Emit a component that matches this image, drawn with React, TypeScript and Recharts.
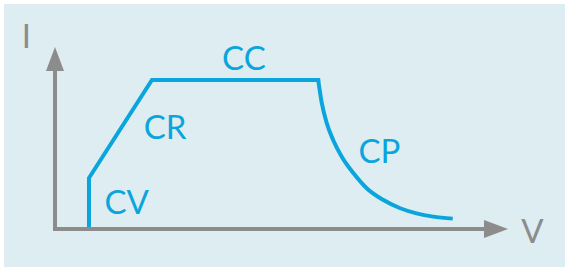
import {
  Line,
  LineChart,
  ReferenceDot,
  ReferenceLine,
  XAxis,
  YAxis,
} from "recharts";

// CV -> CR -> CC part of the characteristic (voltage / current, arbitrary units)
const rampVoltage = [7.5, 7.5, 21.4, 58.1];
const rampCurrent = [0, 28.0, 81.9, 81.9];

// constant power tail
const cpVoltage = [58.1, 58.9, 60.0, 61.4, 63.3, 65.9, 68.8, 72.5, 76.2, 79.8, 83.5, 87.8];
const cpCurrent = [81.9, 69.1, 58.1, 48.9, 39.7, 30.6, 22.4, 15.9, 11.4, 8.6, 6.8, 5.7];

// region labels and axis names, placed in data units
const labelText = ["CC", "CR", "CV", "CP", "I", "V"];
const labelVoltage = [41.7, 24.3, 15.8, 71.6, -6.3, 105.4];
const labelCurrent = [87.6, 49.2, 8.0, 36.5, 99.5, -7.7];

const BLUE = "#0ba5dd";
const GRAY = "#8c8c8c";
const BG = "#deedf2";

const rampData = rampVoltage.map((v, i) => ({ v, i: rampCurrent[i] }));
const cpData = cpVoltage.map((v, i) => ({ v, i: cpCurrent[i] }));
const labels = labelText.map((text, k) => ({
  text,
  v: labelVoltage[k],
  i: labelCurrent[k],
  axis: text === "I" || text === "V",
}));

interface ArrowProps {
  x1?: number;
  y1?: number;
  x2?: number;
  y2?: number;
}

// axis line with a filled arrow head at the (x2, y2) end
const ArrowAxis = ({ x1 = 0, y1 = 0, x2 = 0, y2 = 0 }: ArrowProps) => {
  const dx = x2 - x1;
  const dy = y2 - y1;
  const len = Math.hypot(dx, dy) || 1;
  const ux = dx / len;
  const uy = dy / len;
  const head = 24;
  const half = 9;
  const bx = x2 - ux * head;
  const by = y2 - uy * head;
  return (
    <g>
      <line
        x1={x1 - ux * 2}
        y1={y1 - uy * 2}
        x2={bx + ux * 2}
        y2={by + uy * 2}
        stroke={GRAY}
        strokeWidth={4}
      />
      <polygon
        points={`${x2},${y2} ${bx - uy * half},${by + ux * half} ${bx + uy * half},${by - ux * half}`}
        fill={GRAY}
      />
    </g>
  );
};

export default function App() {
  return (
    <div
      style={{
        position: "absolute",
        left: 0,
        top: 0,
        width: 565,
        height: 267,
        background: "#ffffff",
      }}
    >
      <div
        style={{
          position: "absolute",
          left: 4,
          top: 4,
          right: 0,
          bottom: 0,
          background: BG,
        }}
      />
      <div style={{ position: "absolute", left: 0, top: 0 }}>
        <LineChart
          width={565}
          height={267}
          margin={{ top: 47, right: 57, bottom: 38, left: 55 }}
        >
          <XAxis
            type="number"
            dataKey="v"
            domain={[0, 100]}
            allowDataOverflow
            hide
          />
          <YAxis type="number" domain={[0, 100]} allowDataOverflow hide />
          <Line
            data={rampData}
            dataKey="i"
            type="linear"
            stroke={BLUE}
            strokeWidth={4}
            strokeLinecap="square"
            strokeLinejoin="miter"
            dot={false}
            activeDot={false}
            isAnimationActive={false}
          />
          <Line
            data={cpData}
            dataKey="i"
            type="monotone"
            stroke={BLUE}
            strokeWidth={4}
            dot={false}
            activeDot={false}
            isAnimationActive={false}
          />
          <ReferenceLine
            segment={[
              { x: 0, y: 0 },
              { x: 100, y: 0 },
            ]}
            ifOverflow="visible"
            shape={(p: ArrowProps) => <ArrowAxis {...p} />}
          />
          <ReferenceLine
            segment={[
              { x: 0, y: 0 },
              { x: 0, y: 100 },
            ]}
            ifOverflow="visible"
            shape={(p: ArrowProps) => <ArrowAxis {...p} />}
          />
          {labels.map((l) => (
            <ReferenceDot
              key={l.text}
              x={l.v}
              y={l.i}
              r={0}
              ifOverflow="visible"
              shape={(p: { cx?: number; cy?: number }) => (
                <text
                  x={p.cx}
                  y={p.cy}
                  textAnchor="middle"
                  fill={l.axis ? GRAY : BLUE}
                  fontFamily="Lato, 'Open Sans', sans-serif"
                  fontSize={33}
                >
                  {l.text}
                </text>
              )}
            />
          ))}
        </LineChart>
      </div>
    </div>
  );
}
